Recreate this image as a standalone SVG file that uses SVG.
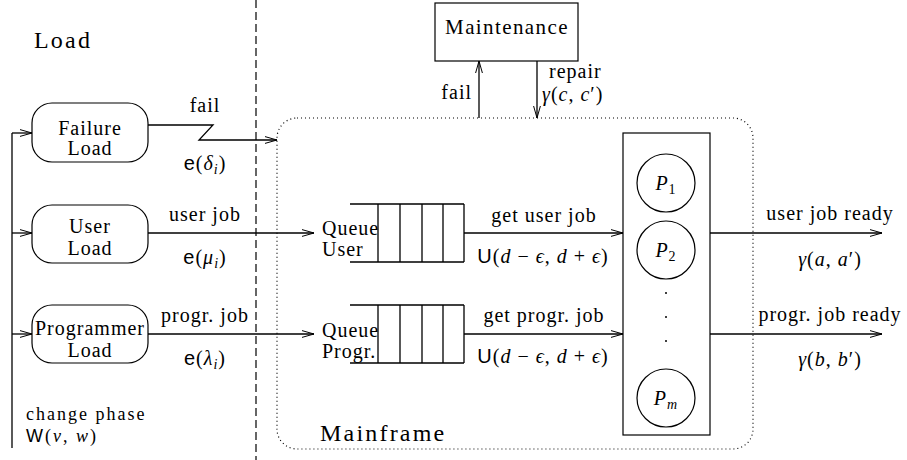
<svg xmlns="http://www.w3.org/2000/svg" width="907" height="460" viewBox="0 0 907 460">
  <style>
    .t { font-family: "Liberation Serif", "DejaVu Serif", serif; font-size: 20px; letter-spacing: 1px; fill: #000; }
    .big { font-size: 24px; letter-spacing: 2.2px; }
    .mid { font-size: 21px; letter-spacing: 1.4px; }
    .sm { font-size: 18px; letter-spacing: 2px; }
    .sf { font-family: "Liberation Sans", "DejaVu Sans", sans-serif; font-style: normal; }
    .it { font-style: italic; }
    .sub { font-size: 14px; }
    .c { text-anchor: middle; }
    .e { text-anchor: end; }
    .ln { fill: none; stroke: #000; stroke-width: 1.3; }
    .box { fill: none; stroke: #000; stroke-width: 1.2; }
    .arr { fill: none; stroke: #000; stroke-width: 1.3; marker-end: url(#head); }
  </style>
  <defs>
    <marker id="head" viewBox="0 0 12 8" refX="12" refY="4" markerWidth="12" markerHeight="8" orient="auto" markerUnits="userSpaceOnUse">
      <path d="M0,0.6 L12,4 L0,7.4" fill="none" stroke="#000" stroke-width="1"/>
    </marker>
  </defs>
  <rect width="907" height="460" fill="#fff"/>

  <!-- load / mainframe divider -->
  <line x1="256" y1="0" x2="256" y2="460" stroke="#000" stroke-width="1.2" stroke-dasharray="8 4"/>
  <text class="t big" x="34" y="48">Load</text>

  <!-- mainframe boundary -->
  <g id="mainframe">
    <rect x="277" y="118" width="476" height="331" rx="20" ry="20" fill="none" stroke="#000" stroke-width="1.2" stroke-dasharray="1 3"/>
    <text class="t big" x="320" y="441">Mainframe</text>
  </g>

  <g id="maintenance">
    <rect class="box" x="435" y="3" width="143" height="58"/>
    <text class="t mid c" x="507" y="34">Maintenance</text>
  </g>

  <g id="failure-load">
    <rect class="box" x="32" y="103" width="116" height="59" rx="20" ry="20"/>
    <text class="t c" x="90" y="135">Failure</text>
    <text class="t c" x="90" y="155">Load</text>
  </g>

  <g id="user-load">
    <rect class="box" x="32" y="205" width="116" height="58" rx="20" ry="20"/>
    <text class="t c" x="90" y="233">User</text>
    <text class="t c" x="90" y="255">Load</text>
  </g>

  <g id="programmer-load">
    <rect class="box" x="32" y="305" width="116" height="58" rx="20" ry="20"/>
    <text class="t c" x="90" y="335" letter-spacing="1.1">Programmer</text>
    <text class="t c" x="90" y="357">Load</text>
  </g>

  <g id="queue-user">
    <path class="ln" d="M350,204 H464 M350,262 H464 M378,204 V262 M400,204 V262 M422,204 V262 M443,204 V262 M464,204 V262"/>
    <text class="t" x="322" y="235">Queue</text>
    <text class="t" x="322" y="256">User</text>
  </g>

  <g id="queue-progr">
    <path class="ln" d="M350,305 H464 M350,363 H464 M378,305 V363 M400,305 V363 M422,305 V363 M443,305 V363 M464,305 V363"/>
    <text class="t" x="322" y="337">Queue</text>
    <text class="t" x="322" y="358">Progr.</text>
  </g>

  <g id="processors">
    <rect class="box" x="623" y="133" width="87" height="302"/>
    <circle class="box" cx="666" cy="183" r="29"/>
    <circle class="box" cx="666" cy="250" r="29"/>
    <circle class="box" cx="666" cy="398" r="29"/>
    <circle cx="666" cy="293" r="1" fill="#000"/>
    <circle cx="666" cy="317" r="1" fill="#000"/>
    <circle cx="666" cy="341" r="1" fill="#000"/>
    <text class="t c" x="666" y="190"><tspan class="it">P</tspan><tspan class="sub" dy="4">1</tspan></text>
    <text class="t c" x="666" y="257"><tspan class="it">P</tspan><tspan class="sub" dy="4">2</tspan></text>
    <text class="t c" x="666" y="405"><tspan class="it">P</tspan><tspan class="sub it" dy="4">m</tspan></text>
  </g>

  <g id="connectors">
    <!-- phase change feed -->
    <path class="ln" d="M12,448 V133"/>
    <path class="arr" d="M12,133 H32"/>
    <path class="arr" d="M12,233 H32"/>
    <path class="arr" d="M12,334 H32"/>
    <!-- failure -->
    <path class="arr" d="M148,125 H213 L199,140 H277"/>
    <!-- jobs into queues -->
    <path class="arr" d="M148,233 H314"/>
    <path class="arr" d="M148,334 H314"/>
    <!-- queues to processors -->
    <path class="arr" d="M464,233 H623"/>
    <path class="arr" d="M464,334 H623"/>
    <!-- results -->
    <path class="arr" d="M710,233 H882"/>
    <path class="arr" d="M710,334 H882"/>
    <!-- maintenance loop -->
    <path class="arr" d="M479,118 V61"/>
    <path class="arr" d="M537,61 V118"/>
  </g>

  <!-- connector labels -->
  <text class="t c" x="205" y="112">fail</text>
  <text class="t c" x="205" y="170"><tspan class="sf">e</tspan>(<tspan class="it">δ</tspan><tspan class="sub it" dy="4">i</tspan><tspan dy="-4">)</tspan></text>
  <text class="t c" x="205" y="221">user job</text>
  <text class="t c" x="205" y="264"><tspan class="sf">e</tspan>(<tspan class="it">μ</tspan><tspan class="sub it" dy="4">i</tspan><tspan dy="-4">)</tspan></text>
  <text class="t c" x="205" y="322">progr. job</text>
  <text class="t c" x="205" y="365"><tspan class="sf">e</tspan>(<tspan class="it">λ</tspan><tspan class="sub it" dy="4">i</tspan><tspan dy="-4">)</tspan></text>
  <text class="t sm" x="26" y="420">change phase</text>
  <text class="t sm" x="26" y="442"><tspan class="sf">W</tspan>(<tspan class="it">v</tspan>, <tspan class="it">w</tspan>)</text>

  <text class="t e" x="472" y="99">fail</text>
  <text class="t" x="549" y="78">repair</text>
  <text class="t" x="542" y="101"><tspan class="it">γ</tspan>(<tspan class="it">c</tspan>, <tspan class="it">c</tspan>′)</text>

  <text class="t c" x="544" y="222">get user job</text>
  <text class="t c" x="543" y="263"><tspan class="sf">U</tspan>(<tspan class="it">d</tspan> − <tspan class="it">ϵ</tspan>, <tspan class="it">d</tspan> + <tspan class="it">ϵ</tspan>)</text>
  <text class="t c" x="544" y="322">get progr. job</text>
  <text class="t c" x="543" y="363"><tspan class="sf">U</tspan>(<tspan class="it">d</tspan> − <tspan class="it">ϵ</tspan>, <tspan class="it">d</tspan> + <tspan class="it">ϵ</tspan>)</text>

  <text class="t c" x="830" y="220">user job ready</text>
  <text class="t c" x="830" y="266"><tspan class="it">γ</tspan>(<tspan class="it">a</tspan>, <tspan class="it">a</tspan>′)</text>
  <text class="t c" x="830" y="321">progr. job ready</text>
  <text class="t c" x="830" y="366"><tspan class="it">γ</tspan>(<tspan class="it">b</tspan>, <tspan class="it">b</tspan>′)</text>
</svg>
